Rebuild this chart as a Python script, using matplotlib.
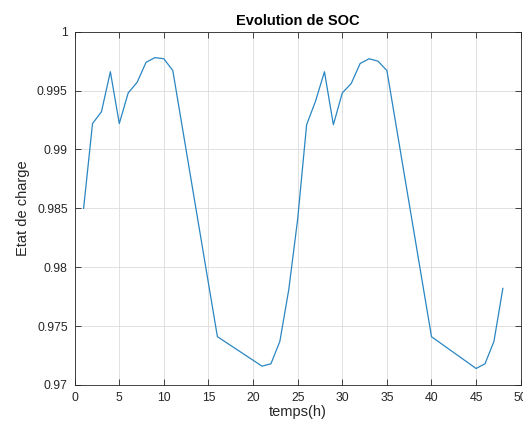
import numpy as np
import matplotlib.pyplot as plt

# hours where the curve has a visible vertex
temps = [1, 2, 3, 4, 5, 6, 7, 8, 9, 10, 11, 16, 21, 22, 23, 24, 25,
         26, 27, 28, 29, 30, 31, 32, 33, 34, 35, 40, 45, 46, 47, 48]
soc = [0.9850, 0.9922, 0.9932, 0.9966, 0.9922, 0.9948, 0.9957, 0.9974,
       0.9978, 0.9977, 0.9967, 0.9741, 0.9716, 0.9718, 0.9737, 0.9781,
       0.9841, 0.9921, 0.9941, 0.9966, 0.9921, 0.9948, 0.9956, 0.9973,
       0.9977, 0.9975, 0.9967, 0.9741, 0.9714, 0.9718, 0.9737, 0.9782]

xticks = [0, 5, 10, 15, 20, 25, 30, 35, 40, 45, 50]
yticks = [0.97, 0.975, 0.98, 0.985, 0.99, 0.995, 1.0]
ylabels = ['0.97', '0.975', '0.98', '0.985', '0.99', '0.995', '1']

plt.rcParams['font.family'] = ['Liberation Sans', 'DejaVu Sans']

fig = plt.figure(figsize=(5.23, 4.30), dpi=100)
ax = fig.add_axes([0.1428, 0.1047, 0.8528, 0.8216])

ax.plot(temps, soc, color='#2a86c2', linewidth=0.9)

ax.set_xlim(0, 50)
ax.set_ylim(0.97, 1.0)
ax.set_xticks(xticks)
ax.set_yticks(yticks)
ax.set_yticklabels(ylabels)
ax.grid(True, color='#dcdcdc', linewidth=0.6)
ax.set_axisbelow(True)
ax.tick_params(direction='in', top=True, right=True, length=4, width=0.6,
               labelsize=8.8, colors='#262626', pad=5)
for s in ax.spines.values():
    s.set_color('#262626')
    s.set_linewidth(0.6)

ax.set_title('Evolution de SOC', fontsize=10.5, fontweight='bold', pad=5)
ax.set_xlabel('temps(h)', fontsize=10.5, color='#262626', labelpad=1)
ax.set_ylabel('Etat de charge', fontsize=10.5, color='#262626', labelpad=5)

fig.savefig('out.png', dpi=100)
